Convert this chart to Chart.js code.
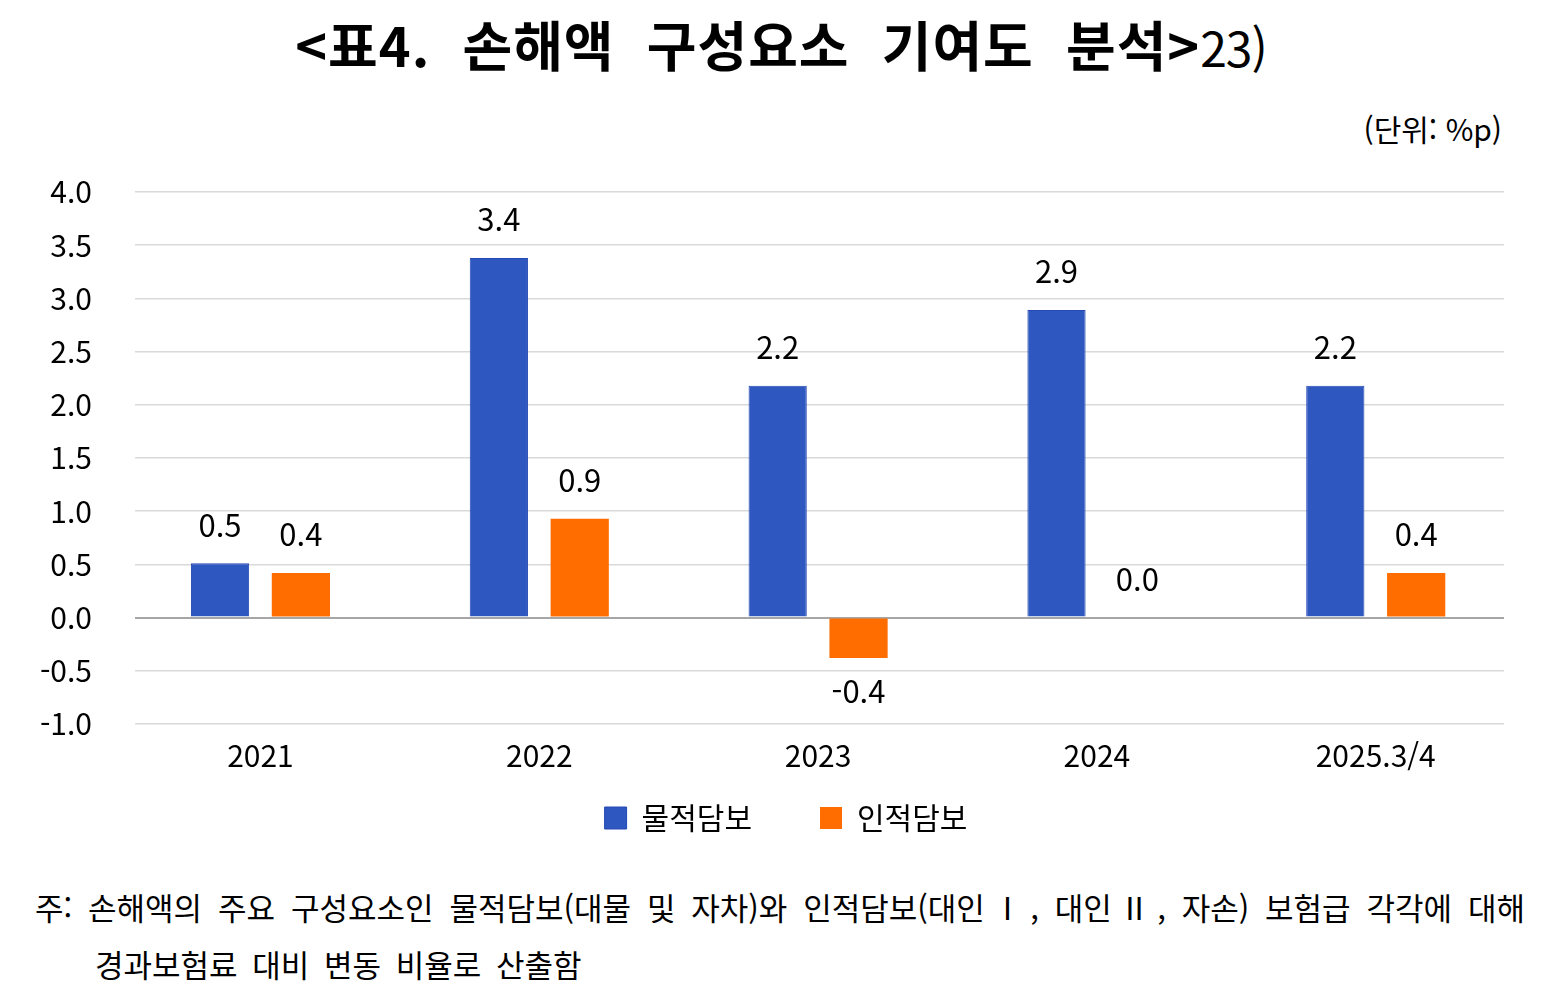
<!DOCTYPE html>
<html lang="ko">
<head>
<meta charset="utf-8">
<script src="https://cdn.jsdelivr.net/npm/chart.js@4.4.1/dist/chart.umd.min.js"></script>
<style>
  html, body { margin: 0; padding: 0; background: #fff; }
  body { width: 1562px; height: 1007px; position: relative; overflow: hidden;
         font-family: "Noto Sans CJK KR", "Noto Sans", sans-serif; color: #000; }
  #title { position: absolute; top: 4px; left: 0; width: 1562px; text-align: center;
           font-size: 54px; font-weight: bold; white-space: pre; letter-spacing: 1px; }
  #title span { font-weight: normal; font-size: 48px; letter-spacing: -1px; }
  #unit { position: absolute; top: 106px; right: 60px; font-size: 30px; }
  #chartBox { position: absolute; left: 0; top: 131px; width: 1562px; height: 712px; }
  #note { position: absolute; left: 35px; top: 878px; width: 1490px; font-size: 31px; line-height: 57px; }
  #note .l1 { text-align: justify; text-align-last: justify; white-space: nowrap; }
  #note .l2 { padding-left: 60px; word-spacing: 6px; }
</style>
</head>
<body>
<div id="title">&lt;표4.  손해액  구성요소  기여도  분석&gt;<span>23)</span></div>
<div id="unit">(단위: %p)</div>
<div id="chartBox"><canvas id="chart"></canvas></div>
<div id="note"><div class="l1">주: 손해액의 주요 구성요소인 물적담보(대물 및 자차)와 인적담보(대인Ⅰ, 대인Ⅱ, 자손) 보험급 각각에 대해</div><div class="l2">경과보험료 대비 변동 비율로 산출함</div></div>
<script>
// categories and series
const years = ['2021', '2022', '2023', '2024', '2025.3/4'];
const property = [0.51, 3.38, 2.18, 2.89, 2.18];   // 물적담보
const personal = [0.42, 0.93, -0.38, 0.0, 0.42];   // 인적담보
const yTicks = [-1.0, -0.5, 0.0, 0.5, 1.0, 1.5, 2.0, 2.5, 3.0, 3.5, 4.0];

const FONT = '"Noto Sans CJK KR", "Noto Sans", sans-serif';

// category index on a linear x axis, so the groups can sit where the reference puts them
const toPoints = arr => arr.map((v, i) => ({ x: i, y: v }));

// draws the value label above (or below, for negatives) each bar
const valueLabels = {
    id: 'valueLabels',
    afterDatasetsDraw(chart) {
        const ctx = chart.ctx;
        ctx.save();
        ctx.font = '31px ' + FONT;
        ctx.fillStyle = '#000';
        ctx.textAlign = 'center';
        chart.data.datasets.forEach((ds, i) => {
            chart.getDatasetMeta(i).data.forEach((bar, j) => {
                const v = ds.data[j].y;
                if (v < 0) {
                    ctx.textBaseline = 'top';
                    ctx.fillText(v.toFixed(1), bar.x, bar.y + 18);
                } else {
                    ctx.textBaseline = 'bottom';
                    ctx.fillText(v.toFixed(1), bar.x, bar.y - 23);
                }
            });
        });
        ctx.restore();
    }
};

// the legend in the reference is centred a little right of the plot's middle
const legendShift = {
    id: 'legendShift',
    afterLayout(chart) { chart.legend.left += 68; }
};

const ctx = document.getElementById('chart').getContext('2d');
new Chart(ctx, {
    type: 'bar',
    data: {
        datasets: [{
            label: '물적담보',
            data: toPoints(property),
            backgroundColor: '#2f57c0',
            borderColor: '#2449b2',
            borderWidth: 1
        }, {
            label: '인적담보',
            data: toPoints(personal),
            backgroundColor: '#ff6d00',
            borderColor: '#ff6d00',
            borderWidth: 0
        }]
    },
    options: {
        responsive: true,
        maintainAspectRatio: false,
        animation: false,
        categoryPercentage: 0.58,
        barPercentage: 0.72,
        layout: { padding: { top: 0, right: 58, left: 0, bottom: 0 } },
        scales: {
            x: {
                type: 'linear',
                offset: false,
                min: -0.45,
                max: 4.46,
                afterBuildTicks(scale) { scale.ticks = years.map((y, i) => ({ value: i })); },
                grid: { display: false },
                border: { display: false },
                ticks: {
                    color: '#000',
                    padding: 6,
                    font: { family: FONT, size: 30 },
                    callback: v => years[v]
                }
            },
            y: {
                min: -1,
                max: 4,
                afterFit(scale) { scale.width = 135; },
                afterBuildTicks(scale) { scale.ticks = yTicks.map(v => ({ value: v })); },
                border: { display: false },
                grid: {
                    drawTicks: false,
                    color: c => c.tick && c.tick.value === 0 ? '#a6a6a6' : '#d9d9d9',
                    lineWidth: c => c.tick && c.tick.value === 0 ? 2 : 1.5
                },
                ticks: {
                    color: '#000',
                    padding: 43,
                    font: { family: FONT, size: 30 },
                    callback: v => v.toFixed(1)
                }
            }
        },
        plugins: {
            legend: {
                position: 'bottom',
                labels: {
                    color: '#000',
                    boxWidth: 22,
                    boxHeight: 22,
                    padding: 23,
                    font: { family: FONT, size: 30 },
                    // widen the gap between the two items without growing the legend's height
                    generateLabels(chart) {
                        const items = Chart.defaults.plugins.legend.labels.generateLabels(chart);
                        items[0].text += '\u2003\u2002';
                        return items;
                    }
                }
            },
            tooltip: { enabled: false }
        }
    },
    plugins: [valueLabels, legendShift]
});
</script>
</body>
</html>
